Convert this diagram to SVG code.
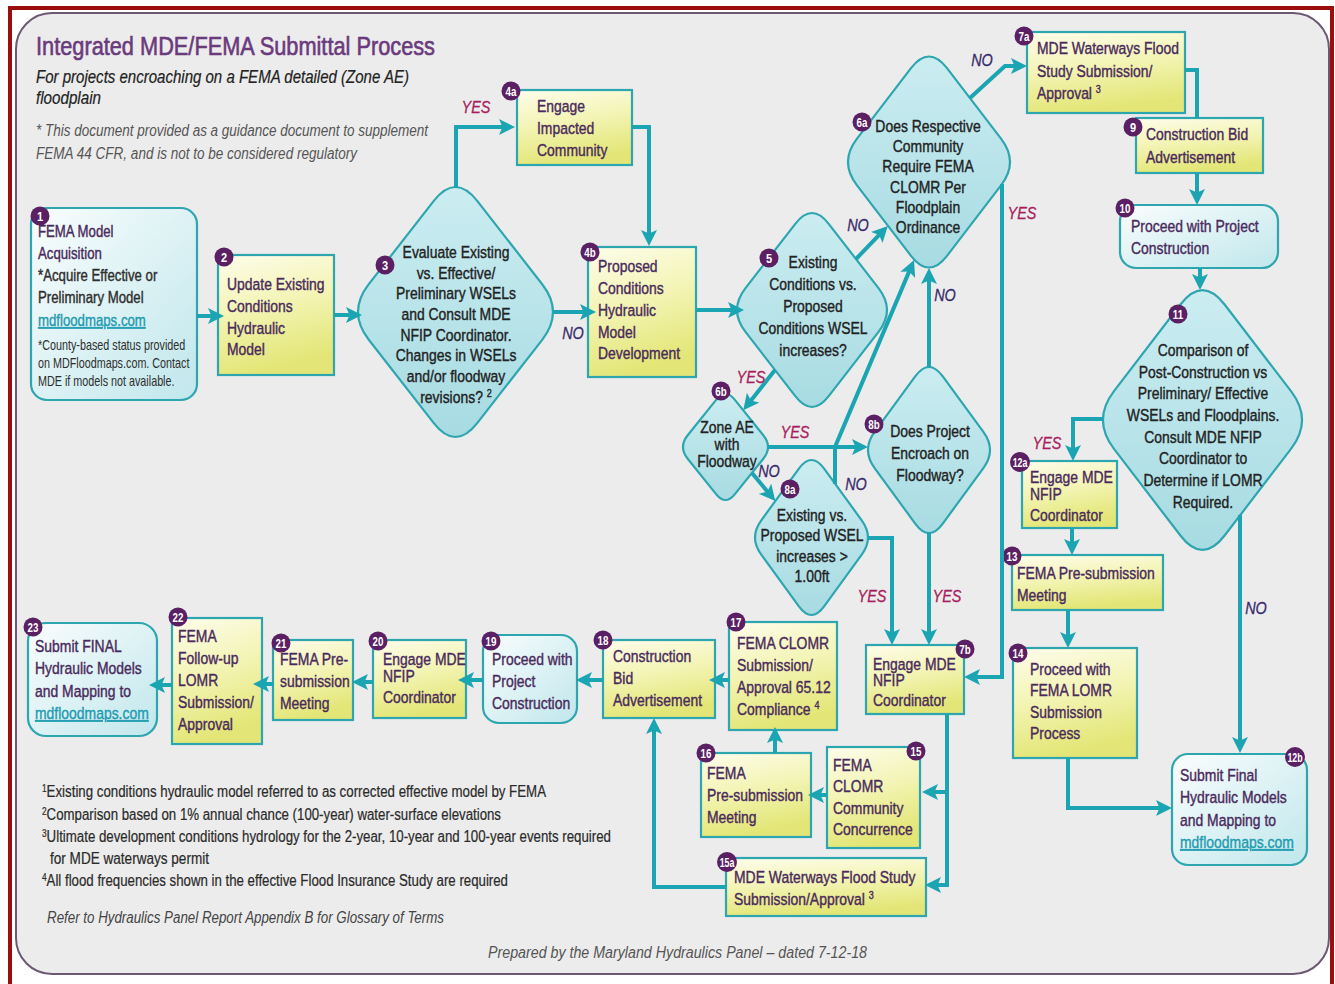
<svg xmlns="http://www.w3.org/2000/svg" width="1335" height="984" viewBox="0 0 1335 984">
<style>
.f{font-family:'Liberation Sans',Arial,sans-serif}
.nt{font-size:17px;fill:#4a2a5c;stroke:#4a2a5c;stroke-width:.4px}
.dt{font-size:17px;fill:#222;stroke:#222;stroke-width:.4px;text-anchor:middle}
.bk{fill:#2e2e2e;stroke:#2e2e2e}
.lnk{fill:#1d9bb0;stroke:#1d9bb0;text-decoration:underline}
.sm{font-size:14px;fill:#2e2e2e}
.yes{font-size:17px;font-style:italic;fill:#a81d5d;stroke:#a81d5d;stroke-width:.3px;text-anchor:middle}
.no{font-size:17px;font-style:italic;fill:#3a2c6c;stroke:#3a2c6c;stroke-width:.3px;text-anchor:middle}
.bt{font-size:13px;font-weight:bold;fill:#fff;text-anchor:middle}
.badge{fill:#5b1f63}
.box{fill:url(#gy);stroke:#2ea6b0;stroke-width:2.2}
.cbox{fill:url(#gc);stroke:#2ea6b0;stroke-width:2.2}
.dia{fill:url(#gd);stroke:#2ea6b0;stroke-width:2.2}
.c{fill:none;stroke:#1ba5b3;stroke-width:4;stroke-linejoin:miter}
.ca{marker-end:url(#ah)}
.fn{font-size:16px;fill:#2a2a2a;stroke:#2a2a2a;stroke-width:.2px}
</style>
<defs>
<linearGradient id="gy" x1="0" y1="0" x2="0.25" y2="1">
<stop offset="0" stop-color="#fdfdec"/><stop offset="0.5" stop-color="#f3f4b4"/><stop offset="1" stop-color="#e3e676"/>
</linearGradient>
<linearGradient id="gc" x1="0" y1="0" x2="1" y2="1">
<stop offset="0" stop-color="#fafdfd"/><stop offset="1" stop-color="#c0e7ec"/>
</linearGradient>
<linearGradient id="gd" x1="0" y1="0" x2="0" y2="1">
<stop offset="0" stop-color="#cbedf1"/><stop offset="1" stop-color="#a7dbe2"/>
</linearGradient>
<marker id="ah" viewBox="0 0 16 16" markerWidth="16" markerHeight="16" refX="8" refY="8" orient="auto" markerUnits="userSpaceOnUse"><path d="M0,0 L16,8 L0,16 L3.5,8 Z" fill="#1ba5b3"/></marker>
</defs>
<rect width="1335" height="984" fill="#ffffff"/>
<rect x="10" y="8" width="1322" height="990" fill="none" stroke="#9c0d0d" stroke-width="4"/>
<rect x="16" y="13" width="1313" height="961" rx="36" fill="#ececec" stroke="#6d5874" stroke-width="2"/>

<g id="header">
<text class="f" x="36" y="55" font-size="25" fill="#6b3a7d" stroke="#6b3a7d" stroke-width="0.6" textLength="399" lengthAdjust="spacingAndGlyphs">Integrated MDE/FEMA Submittal Process</text>
<text class="f" x="36" y="83" font-size="18" font-style="italic" fill="#222" stroke="#222" stroke-width="0.2" textLength="373" lengthAdjust="spacingAndGlyphs">For projects encroaching on a FEMA detailed (Zone AE)</text>
<text class="f" x="36" y="104" font-size="18" font-style="italic" fill="#222" stroke="#222" stroke-width="0.2" textLength="65" lengthAdjust="spacingAndGlyphs">floodplain</text>
<text class="f" x="36" y="136" font-size="16" font-style="italic" fill="#555" textLength="392" lengthAdjust="spacingAndGlyphs">* This document provided as a guidance document to supplement</text>
<text class="f" x="36" y="159" font-size="16" font-style="italic" fill="#555" textLength="321" lengthAdjust="spacingAndGlyphs">FEMA 44 CFR, and is not to be considered regulatory</text>
</g>

<g id="n1">
<rect class="cbox" x="31" y="208" width="166" height="192" rx="16"/>
<text class="f nt" style="font-size:16.5px" transform="translate(38,237) scale(.8,1)"><tspan x="0">FEMA Model</tspan><tspan x="0" dy="22">Acquisition</tspan><tspan x="0" dy="22" class="bk">*Acquire Effective or</tspan><tspan x="0" dy="22" class="bk">Preliminary Model</tspan><tspan x="0" dy="23" class="lnk">mdfloodmaps.com</tspan></text>
<text class="f sm" transform="translate(38,350) scale(.77,1)"><tspan x="0">*County-based status provided</tspan><tspan x="0" dy="18">on MDFloodmaps.com. Contact</tspan><tspan x="0" dy="18">MDE if models not available.</tspan></text>
<circle class="badge" cx="40" cy="216" r="9.5"/><text class="f bt" transform="translate(40,220.5) scale(.85,1)">1</text>
</g>

<g id="n2">
<rect class="box" x="218" y="255" width="116" height="120"/>
<text class="f nt" transform="translate(227,290) scale(.82,1)"><tspan x="0">Update Existing</tspan><tspan x="0" dy="22">Conditions</tspan><tspan x="0" dy="22">Hydraulic</tspan><tspan x="0" dy="21">Model</tspan></text>
<circle class="badge" cx="224" cy="257" r="9.5"/><text class="f bt" transform="translate(224,261.5) scale(.85,1)">2</text>
</g>

<g id="n3">
<path class="dia" d="M477.2,200.9 L542.2,284.2 Q563.8,312 542.2,339.8 L477.2,423.1 Q455.5,450.9 433.8,423.1 L368.8,339.8 Q347.2,312 368.8,284.2 L433.8,200.9 Q455.5,173.1 477.2,200.9 Z"/>
<text class="f dt" transform="translate(456,258) scale(.82,1)"><tspan x="0">Evaluate Existing</tspan><tspan x="0" dy="20.7">vs. Effective/</tspan><tspan x="0" dy="20.7">Preliminary WSELs</tspan><tspan x="0" dy="20.7">and Consult MDE</tspan><tspan x="0" dy="20.7">NFIP Coordinator.</tspan><tspan x="0" dy="20.7">Changes in WSELs</tspan><tspan x="0" dy="20.7">and/or floodway</tspan><tspan x="0" dy="20.7">revisions? <tspan font-size="11" dy="-6">2</tspan></tspan></text>
<circle class="badge" cx="385" cy="265" r="9.5"/><text class="f bt" transform="translate(385,269.5) scale(.85,1)">3</text>
</g>

<g id="n4a">
<rect class="box" x="517" y="90" width="115" height="75"/>
<text class="f nt" transform="translate(537,112) scale(.82,1)"><tspan x="0">Engage</tspan><tspan x="0" dy="22">Impacted</tspan><tspan x="0" dy="22">Community</tspan></text>
<circle class="badge" cx="511" cy="91" r="9.5"/><text class="f bt" transform="translate(511,95.5) scale(.75,1)">4a</text>
</g>

<g id="n4b">
<rect class="box" x="588" y="247" width="108" height="130"/>
<text class="f nt" transform="translate(598,272) scale(.82,1)"><tspan x="0">Proposed</tspan><tspan x="0" dy="22">Conditions</tspan><tspan x="0" dy="22">Hydraulic</tspan><tspan x="0" dy="22">Model</tspan><tspan x="0" dy="21">Development</tspan></text>
<circle class="badge" cx="590" cy="252" r="9.5"/><text class="f bt" transform="translate(590,256.5) scale(.75,1)">4b</text>
</g>

<g id="n5">
<path class="dia" d="M828.7,223.8 L878.7,288.4 Q895.3,310 878.7,331.6 L828.7,396.2 Q812,417.8 795.3,396.2 L745.3,331.6 Q728.7,310 745.3,288.4 L795.3,223.8 Q812,202.2 828.7,223.8 Z"/>
<text class="f dt" transform="translate(813,268) scale(.82,1)"><tspan x="0">Existing</tspan><tspan x="0" dy="22">Conditions vs.</tspan><tspan x="0" dy="22">Proposed</tspan><tspan x="0" dy="22">Conditions WSEL</tspan><tspan x="0" dy="22">increases?</tspan></text>
<circle class="badge" cx="769" cy="258" r="9.5"/><text class="f bt" transform="translate(769,262.5) scale(.85,1)">5</text>
</g>

<g id="n6a">
<path class="dia" d="M947,68.2 L1001,138.6 Q1019,162 1001,185.4 L947,255.8 Q929,279.2 911,255.8 L857,185.4 Q839,162 857,138.6 L911,68.2 Q929,44.8 947,68.2 Z"/>
<text class="f dt" transform="translate(928,132) scale(.82,1)"><tspan x="0">Does Respective</tspan><tspan x="0" dy="20.2">Community</tspan><tspan x="0" dy="20.2">Require FEMA</tspan><tspan x="0" dy="20.2">CLOMR Per</tspan><tspan x="0" dy="20.2">Floodplain</tspan><tspan x="0" dy="20.2">Ordinance</tspan></text>
<circle class="badge" cx="862" cy="122" r="9.5"/><text class="f bt" transform="translate(862,126.5) scale(.75,1)">6a</text>
</g>

<g id="n6b">
<path class="dia" d="M734.9,399.9 L763.3,435.2 Q772.7,447 763.3,458.8 L734.9,494.1 Q725.5,505.9 716.1,494.1 L687.7,458.8 Q678.3,447 687.7,435.2 L716.1,399.9 Q725.5,388.1 734.9,399.9 Z"/>
<text class="f dt" transform="translate(727,433) scale(.82,1)"><tspan x="0">Zone AE</tspan><tspan x="0" dy="17">with</tspan><tspan x="0" dy="17">Floodway</tspan></text>
<circle class="badge" cx="721" cy="391" r="9.5"/><text class="f bt" transform="translate(721,395.5) scale(.75,1)">6b</text>
</g>

<g id="n7a">
<rect class="box" x="1027" y="32" width="158" height="81"/>
<text class="f nt" transform="translate(1037,54) scale(.82,1)"><tspan x="0">MDE Waterways Flood</tspan><tspan x="0" dy="23">Study Submission/</tspan><tspan x="0" dy="22">Approval <tspan font-size="11" dy="-6">3</tspan></tspan></text>
<circle class="badge" cx="1024" cy="36" r="9.5"/><text class="f bt" transform="translate(1024,40.5) scale(.75,1)">7a</text>
</g>

<g id="n7b">
<rect class="box" x="866" y="645" width="98" height="69"/>
<text class="f nt" transform="translate(873,670) scale(.82,1)"><tspan x="0">Engage MDE</tspan><tspan x="0" dy="16">NFIP</tspan><tspan x="0" dy="20">Coordinator</tspan></text>
<circle class="badge" cx="965" cy="649" r="9.5"/><text class="f bt" transform="translate(965,653.5) scale(.75,1)">7b</text>
</g>

<g id="n8a">
<path class="dia" d="M824.1,468.6 L861.7,520.3 Q874.3,537.5 861.7,554.7 L824.1,606.4 Q811.5,623.6 798.9,606.4 L761.3,554.7 Q748.7,537.5 761.3,520.3 L798.9,468.6 Q811.5,451.4 824.1,468.6 Z"/>
<text class="f dt" transform="translate(812,521) scale(.82,1)"><tspan x="0">Existing vs.</tspan><tspan x="0" dy="20.5">Proposed WSEL</tspan><tspan x="0" dy="20.5">increases &gt;</tspan><tspan x="0" dy="20.5">1.00ft</tspan></text>
<circle class="badge" cx="790" cy="489" r="9.5"/><text class="f bt" transform="translate(790,493.5) scale(.75,1)">8a</text>
</g>

<g id="n8b">
<path class="dia" d="M942.6,376.2 L983.2,431.6 Q996.8,450 983.2,468.4 L942.6,523.8 Q929,542.2 915.4,523.8 L874.8,468.4 Q861.2,450 874.8,431.6 L915.4,376.2 Q929,357.8 942.6,376.2 Z"/>
<text class="f dt" transform="translate(930,437) scale(.82,1)"><tspan x="0">Does Project</tspan><tspan x="0" dy="22">Encroach on</tspan><tspan x="0" dy="22">Floodway?</tspan></text>
<circle class="badge" cx="874" cy="424" r="9.5"/><text class="f bt" transform="translate(874,428.5) scale(.75,1)">8b</text>
</g>

<g id="n9">
<rect class="box" x="1136" y="118" width="127" height="55"/>
<text class="f nt" transform="translate(1146,140) scale(.82,1)"><tspan x="0">Construction Bid</tspan><tspan x="0" dy="23">Advertisement</tspan></text>
<circle class="badge" cx="1133" cy="127" r="9.5"/><text class="f bt" transform="translate(1133,131.5) scale(.85,1)">9</text>
</g>

<g id="n10">
<rect class="cbox" x="1120" y="205" width="158" height="63" rx="16"/>
<text class="f nt" transform="translate(1131,232) scale(.82,1)"><tspan x="0">Proceed with Project</tspan><tspan x="0" dy="22">Construction</tspan></text>
<circle class="badge" cx="1125" cy="208" r="9.5"/><text class="f bt" transform="translate(1125,212.5) scale(.75,1)">10</text>
</g>

<g id="n11">
<path class="dia" d="M1224.6,304.5 L1291,391.1 Q1313.1,420 1291,448.9 L1224.6,535.5 Q1202.5,564.4 1180.4,535.5 L1114,448.9 Q1091.9,420 1114,391.1 L1180.4,304.5 Q1202.5,275.6 1224.6,304.5 Z"/>
<text class="f dt" transform="translate(1203,356) scale(.82,1)"><tspan x="0">Comparison of</tspan><tspan x="0" dy="21.7">Post-Construction vs</tspan><tspan x="0" dy="21.7">Preliminary/ Effective</tspan><tspan x="0" dy="21.7">WSELs and Floodplains.</tspan><tspan x="0" dy="21.7">Consult MDE NFIP</tspan><tspan x="0" dy="21.7">Coordinator to</tspan><tspan x="0" dy="21.7">Determine if LOMR</tspan><tspan x="0" dy="21.7">Required.</tspan></text>
<circle class="badge" cx="1178" cy="314" r="9.5"/><text class="f bt" transform="translate(1178,318.5) scale(.75,1)">11</text>
</g>

<g id="n12a">
<rect class="box" x="1022" y="461" width="95" height="67"/>
<text class="f nt" transform="translate(1030,483) scale(.82,1)"><tspan x="0">Engage MDE</tspan><tspan x="0" dy="17">NFIP</tspan><tspan x="0" dy="21">Coordinator</tspan></text>
<circle class="badge" cx="1020" cy="462" r="10"/><text class="f bt" transform="translate(1020,466.5) scale(.68,1)">12a</text>
</g>

<g id="n12b">
<rect class="cbox" x="1172" y="754" width="135" height="111" rx="16"/>
<text class="f nt" transform="translate(1180,781) scale(.82,1)"><tspan x="0">Submit Final</tspan><tspan x="0" dy="22">Hydraulic Models</tspan><tspan x="0" dy="23">and Mapping to</tspan><tspan x="0" dy="22" class="lnk">mdfloodmaps.com</tspan></text>
<circle class="badge" cx="1295" cy="757" r="10"/><text class="f bt" transform="translate(1295,761.5) scale(.68,1)">12b</text>
</g>

<g id="n13">
<rect class="box" x="1012" y="555" width="151" height="55"/>
<text class="f nt" transform="translate(1017,579) scale(.82,1)"><tspan x="0">FEMA Pre-submission</tspan><tspan x="0" dy="22">Meeting</tspan></text>
<circle class="badge" cx="1012" cy="556" r="9.5"/><text class="f bt" transform="translate(1012,560.5) scale(.75,1)">13</text>
</g>

<g id="n14">
<rect class="box" x="1013" y="648" width="124" height="110"/>
<text class="f nt" transform="translate(1030,675) scale(.82,1)"><tspan x="0">Proceed with</tspan><tspan x="0" dy="21.5">FEMA LOMR</tspan><tspan x="0" dy="21.5">Submission</tspan><tspan x="0" dy="21.5">Process</tspan></text>
<circle class="badge" cx="1018" cy="653" r="9.5"/><text class="f bt" transform="translate(1018,657.5) scale(.75,1)">14</text>
</g>

<g id="n15">
<rect class="box" x="827" y="747" width="93" height="101"/>
<text class="f nt" transform="translate(833,771) scale(.82,1)"><tspan x="0">FEMA</tspan><tspan x="0" dy="21.5">CLOMR</tspan><tspan x="0" dy="21.5">Community</tspan><tspan x="0" dy="21.5">Concurrence</tspan></text>
<circle class="badge" cx="916" cy="751" r="9.5"/><text class="f bt" transform="translate(916,755.5) scale(.75,1)">15</text>
</g>

<g id="n15a">
<rect class="box" x="726" y="858" width="200" height="58"/>
<text class="f nt" transform="translate(734,883) scale(.82,1)"><tspan x="0">MDE Waterways Flood Study</tspan><tspan x="0" dy="22">Submission/Approval <tspan font-size="11" dy="-6">3</tspan></tspan></text>
<circle class="badge" cx="727" cy="862" r="10"/><text class="f bt" transform="translate(727,866.5) scale(.68,1)">15a</text>
</g>

<g id="n16">
<rect class="box" x="701" y="753" width="110" height="84"/>
<text class="f nt" transform="translate(707,779) scale(.82,1)"><tspan x="0">FEMA</tspan><tspan x="0" dy="22">Pre-submission</tspan><tspan x="0" dy="22">Meeting</tspan></text>
<circle class="badge" cx="706" cy="753" r="9.5"/><text class="f bt" transform="translate(706,757.5) scale(.75,1)">16</text>
</g>

<g id="n17">
<rect class="box" x="729" y="622" width="108" height="108"/>
<text class="f nt" transform="translate(737,649) scale(.82,1)"><tspan x="0">FEMA CLOMR</tspan><tspan x="0" dy="22">Submission/</tspan><tspan x="0" dy="22">Approval 65.12</tspan><tspan x="0" dy="22">Compliance <tspan font-size="11" dy="-6">4</tspan></tspan></text>
<circle class="badge" cx="736" cy="622" r="9.5"/><text class="f bt" transform="translate(736,626.5) scale(.75,1)">17</text>
</g>

<g id="n18">
<rect class="box" x="603" y="640" width="112" height="78"/>
<text class="f nt" transform="translate(613,662) scale(.82,1)"><tspan x="0">Construction</tspan><tspan x="0" dy="22">Bid</tspan><tspan x="0" dy="22">Advertisement</tspan></text>
<circle class="badge" cx="603" cy="640" r="9.5"/><text class="f bt" transform="translate(603,644.5) scale(.75,1)">18</text>
</g>

<g id="n19">
<rect class="cbox" x="483" y="635" width="94" height="88" rx="16"/>
<text class="f nt" transform="translate(492,665) scale(.82,1)"><tspan x="0">Proceed with</tspan><tspan x="0" dy="22">Project</tspan><tspan x="0" dy="22">Construction</tspan></text>
<circle class="badge" cx="491" cy="641" r="9.5"/><text class="f bt" transform="translate(491,645.5) scale(.75,1)">19</text>
</g>

<g id="n20">
<rect class="box" x="373" y="640" width="93" height="78"/>
<text class="f nt" transform="translate(383,665) scale(.82,1)"><tspan x="0">Engage MDE</tspan><tspan x="0" dy="17">NFIP</tspan><tspan x="0" dy="21">Coordinator</tspan></text>
<circle class="badge" cx="378" cy="641" r="9.5"/><text class="f bt" transform="translate(378,645.5) scale(.75,1)">20</text>
</g>

<g id="n21">
<rect class="box" x="273" y="640" width="80" height="80"/>
<text class="f nt" transform="translate(280,665) scale(.82,1)"><tspan x="0">FEMA Pre-</tspan><tspan x="0" dy="22">submission</tspan><tspan x="0" dy="22">Meeting</tspan></text>
<circle class="badge" cx="281" cy="643" r="9.5"/><text class="f bt" transform="translate(281,647.5) scale(.75,1)">21</text>
</g>

<g id="n22">
<rect class="box" x="172" y="618" width="90" height="126"/>
<text class="f nt" transform="translate(178,642) scale(.82,1)"><tspan x="0">FEMA</tspan><tspan x="0" dy="22">Follow-up</tspan><tspan x="0" dy="22">LOMR</tspan><tspan x="0" dy="22">Submission/</tspan><tspan x="0" dy="22">Approval</tspan></text>
<circle class="badge" cx="178" cy="617" r="9.5"/><text class="f bt" transform="translate(178,621.5) scale(.75,1)">22</text>
</g>

<g id="n23">
<rect class="cbox" x="28" y="623" width="129" height="113" rx="18"/>
<text class="f nt" transform="translate(35,652) scale(.82,1)"><tspan x="0">Submit FINAL</tspan><tspan x="0" dy="22">Hydraulic Models</tspan><tspan x="0" dy="23">and Mapping to</tspan><tspan x="0" dy="22" class="lnk">mdfloodmaps.com</tspan></text>
<circle class="badge" cx="33" cy="627" r="9.5"/><text class="f bt" transform="translate(33,631.5) scale(.75,1)">23</text>
</g>

<g id="connectors">
<path class="c ca" d="M197,316 L216,316"/>
<path class="c ca" d="M334,315 L354,315"/>
<path class="c ca" d="M456,188 L456,127 L507,127"/>
<path class="c ca" d="M632,127 L649,127 L649,238"/>
<path class="c ca" d="M553,312 L588,312"/>
<path class="c ca" d="M696,310 L736,310"/>
<path class="c ca" d="M856,259 L882.3,231.7"/>
<path class="c ca" d="M970,98 L1005,66 L1019,66"/>
<path class="c" d="M1185,70 L1197,70 L1197,118"/>
<path class="c ca" d="M1197,173 L1197,197"/>
<path class="c ca" d="M1200,268 L1200,282"/>
<path class="c ca" d="M1103,419 L1073,419 L1073,453"/>
<path class="c ca" d="M1072,528 L1072,547"/>
<path class="c ca" d="M1068,610 L1068,640"/>
<path class="c ca" d="M1068,758 L1068,808 L1164,808"/>
<path class="c ca" d="M1240,515 L1240,745"/>
<path class="c ca" d="M1002,184 L1002,677 L972,677"/>
<path class="c ca" d="M929,367 L929,276"/>
<path class="c ca" d="M929,533 L929,637"/>
<path class="c ca" d="M775,370 L748.2,404"/>
<path class="c ca" d="M768,447 L860,447"/>
<path class="c ca" d="M752,473 L770.2,494.9"/>
<path class="c ca" d="M835,484 L835,447 L910.9,267.4"/>
<path class="c ca" d="M868,538 L892,538 L892,637"/>
<path class="c ca" d="M947,714 L947,885 L933,885"/>
<path class="c ca" d="M947,792 L930,792"/>
<path class="c ca" d="M827,795 L816,795"/>
<path class="c ca" d="M775,753 L775,735"/>
<path class="c ca" d="M729,680 L717,680"/>
<path class="c ca" d="M726,887 L654,887 L654,726"/>
<path class="c ca" d="M603,680 L584,680"/>
<path class="c ca" d="M483,680 L466,680"/>
<path class="c ca" d="M373,682 L360,682"/>
<path class="c ca" d="M273,684 L261,684"/>
<path class="c ca" d="M172,685 L157,685"/>
</g>

<g id="labels">
<text class="f yes" transform="translate(476,113) scale(.85,1)">YES</text>
<text class="f no" transform="translate(573,339) scale(.85,1)">NO</text>
<text class="f no" transform="translate(858,231) scale(.85,1)">NO</text>
<text class="f no" transform="translate(982,66) scale(.85,1)">NO</text>
<text class="f yes" transform="translate(1022,219) scale(.85,1)">YES</text>
<text class="f no" transform="translate(945,301) scale(.85,1)">NO</text>
<text class="f yes" transform="translate(751,383) scale(.85,1)">YES</text>
<text class="f yes" transform="translate(795,438) scale(.85,1)">YES</text>
<text class="f no" transform="translate(769,477) scale(.85,1)">NO</text>
<text class="f no" transform="translate(856,490) scale(.85,1)">NO</text>
<text class="f yes" transform="translate(872,602) scale(.85,1)">YES</text>
<text class="f yes" transform="translate(947,602) scale(.85,1)">YES</text>
<text class="f yes" transform="translate(1047,449) scale(.85,1)">YES</text>
<text class="f no" transform="translate(1256,614) scale(.85,1)">NO</text>
</g>

<g id="footnotes">
<text class="f fn" x="42" y="797" textLength="504" lengthAdjust="spacingAndGlyphs"><tspan font-size="10" dy="-5">1</tspan><tspan dy="5">Existing conditions hydraulic model referred to as corrected effective model by FEMA</tspan></text>
<text class="f fn" x="42" y="820" textLength="459" lengthAdjust="spacingAndGlyphs"><tspan font-size="10" dy="-5">2</tspan><tspan dy="5">Comparison based on 1% annual chance (100-year) water-surface elevations</tspan></text>
<text class="f fn" x="42" y="842" textLength="569" lengthAdjust="spacingAndGlyphs"><tspan font-size="10" dy="-5">3</tspan><tspan dy="5">Ultimate development conditions hydrology for the 2-year, 10-year and 100-year events required</tspan></text>
<text class="f fn" x="50" y="864" textLength="159" lengthAdjust="spacingAndGlyphs">for MDE waterways permit</text>
<text class="f fn" x="42" y="886" textLength="466" lengthAdjust="spacingAndGlyphs"><tspan font-size="10" dy="-5">4</tspan><tspan dy="5">All flood frequencies shown in the effective Flood Insurance Study are required</tspan></text>
<text class="f" x="47" y="923" font-size="16" font-style="italic" fill="#444" textLength="397" lengthAdjust="spacingAndGlyphs">Refer to Hydraulics Panel Report Appendix B for Glossary of Terms</text>
<text class="f" x="488" y="958" font-size="16" font-style="italic" fill="#555" textLength="379" lengthAdjust="spacingAndGlyphs">Prepared by the Maryland Hydraulics Panel – dated 7-12-18</text>
</g>
</svg>
